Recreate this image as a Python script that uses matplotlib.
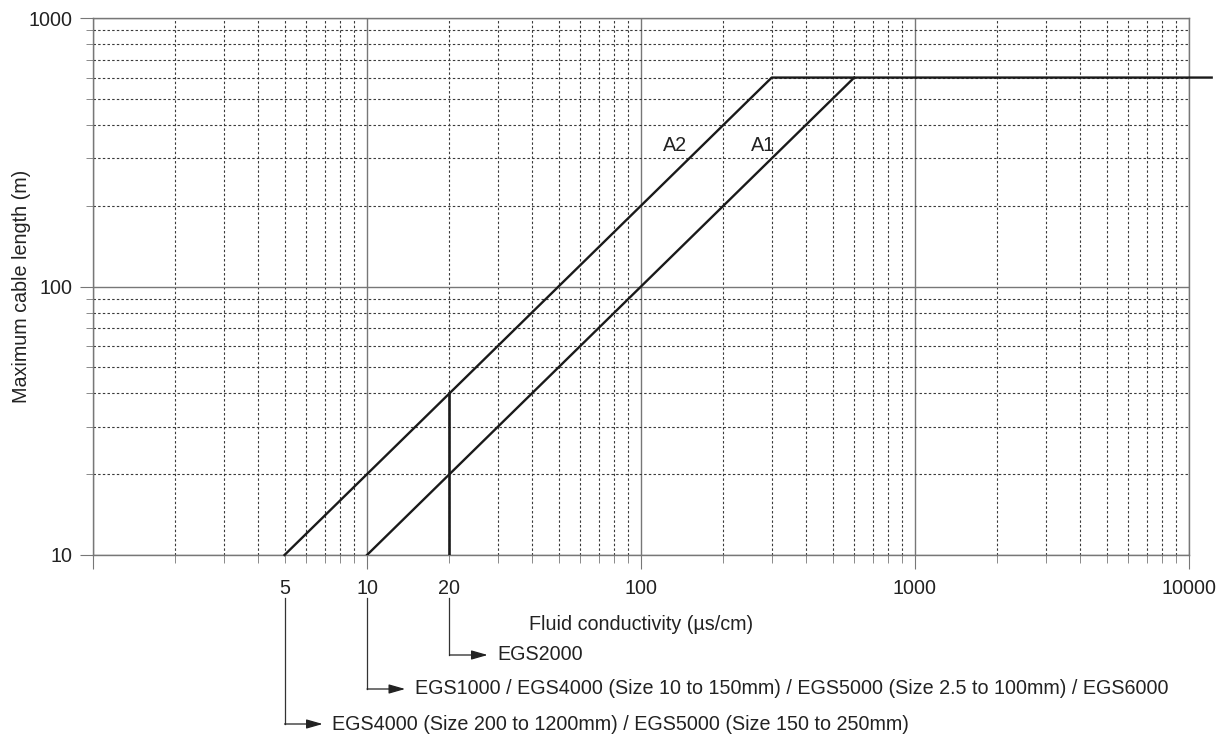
import matplotlib
matplotlib.use('Agg')
import matplotlib.pyplot as plt
import matplotlib.transforms as mtransforms
from matplotlib.ticker import FixedLocator, FuncFormatter

plt.rcParams['font.family'] = ['Liberation Sans', 'DejaVu Sans']
plt.rcParams['font.size'] = 14.2

# curves (fluid conductivity vs max cable length)
a1_x = [10, 600]
a1_y = [10, 600]
a2_x = [5, 300, 12100]
a2_y = [10, 600, 600]
egs2000_x = [20, 20]
egs2000_y = [10, 40]

x_major = [1, 10, 100, 1000, 10000]
x_minor = [m * d for d in (1, 10, 100, 1000) for m in range(2, 10)]
x_minor_labels = {5: '5', 20: '20'}
y_major = [10, 100, 1000]
y_minor = [m * d for d in (10, 100) for m in range(2, 10)]

callout_x = [20, 10, 5]
callout_y_px = [655, 689, 724]
callout_text = ['EGS2000',
                'EGS1000 / EGS4000 (Size 10 to 150mm) / EGS5000 (Size 2.5 to 100mm) / EGS6000',
                'EGS4000 (Size 200 to 1200mm) / EGS5000 (Size 150 to 250mm)']

W, H = 1231, 735
fig = plt.figure(figsize=(W / 100, H / 100), dpi=100)
ax = fig.add_axes([93 / W, 1 - 555 / H, 1096 / W, 537 / H])
ax.set_xscale('log')
ax.set_yscale('log')
ax.set_xlim(1, 10000)
ax.set_ylim(10, 1000)

lc = '#1a1a1a'
ax.plot(a1_x, a1_y, color=lc, lw=1.7, zorder=5)
ax.plot(a2_x, a2_y, color=lc, lw=1.7, clip_on=False, zorder=5)
ax.plot(egs2000_x, egs2000_y, color=lc, lw=1.9, zorder=5)
ax.text(133, 334, 'A2', ha='center', va='center', color='#222')
ax.text(279, 334, 'A1', ha='center', va='center', color='#222')

ax.xaxis.set_major_locator(FixedLocator(x_major))
ax.xaxis.set_minor_locator(FixedLocator(x_minor))
ax.xaxis.set_major_formatter(FuncFormatter(lambda v, p: '' if v < 5 else '%d' % v))
ax.xaxis.set_minor_formatter(FuncFormatter(lambda v, p: x_minor_labels.get(int(round(v)), '')))
ax.yaxis.set_major_locator(FixedLocator(y_major))
ax.yaxis.set_minor_locator(FixedLocator(y_minor))
ax.yaxis.set_major_formatter(FuncFormatter(lambda v, p: '%d' % v))
ax.yaxis.set_minor_formatter(FuncFormatter(lambda v, p: ''))

ax.grid(which='major', color='#777777', lw=1.0, ls='-')
ax.grid(which='minor', color='#3a3a3a', lw=0.8, ls=(0, (2.2, 2)))
ax.set_axisbelow(True)

gray = '#777777'
for s in ax.spines.values():
    s.set_color(gray)
    s.set_linewidth(1.0)
ax.tick_params(axis='both', which='both', colors=gray, labelcolor='#222222', labelsize=14.2)
ax.tick_params(axis='y', which='major', length=9.5, pad=5)
ax.tick_params(axis='y', which='minor', length=5)
ax.tick_params(axis='x', which='major', length=10, pad=7.5)
ax.tick_params(axis='x', which='minor', length=5.8, pad=11.7)

ax.set_xlabel('Fluid conductivity (\u00b5s/cm)', color='#222')
ax.xaxis.set_label_coords(0.5, -0.112)
ax.set_ylabel('Maximum cable length (m)', color='#222')
ax.yaxis.set_label_coords(-0.057, 0.5)

# callouts below the axis
trans = mtransforms.blended_transform_factory(ax.transData, fig.transFigure)
top_y = 1 - 598 / H
for cx, cy, txt in zip(callout_x, callout_y_px, callout_text):
    yf = 1 - cy / H
    ax.plot([cx, cx], [top_y, yf], color='#333', lw=0.9, transform=trans, clip_on=False)
    ax.annotate('', xy=(cx, yf), xycoords=trans, xytext=(27.5, 0), textcoords='offset points',
                arrowprops=dict(arrowstyle='<|-,head_length=0.7,head_width=0.2', color='#222',
                                lw=0.9, shrinkA=0, shrinkB=0), annotation_clip=False)
    ax.annotate(txt, xy=(cx, yf), xycoords=trans, xytext=(34.5, 0), textcoords='offset points',
                ha='left', va='center', color='#222', annotation_clip=False)

fig.savefig('out.png', dpi=100)
